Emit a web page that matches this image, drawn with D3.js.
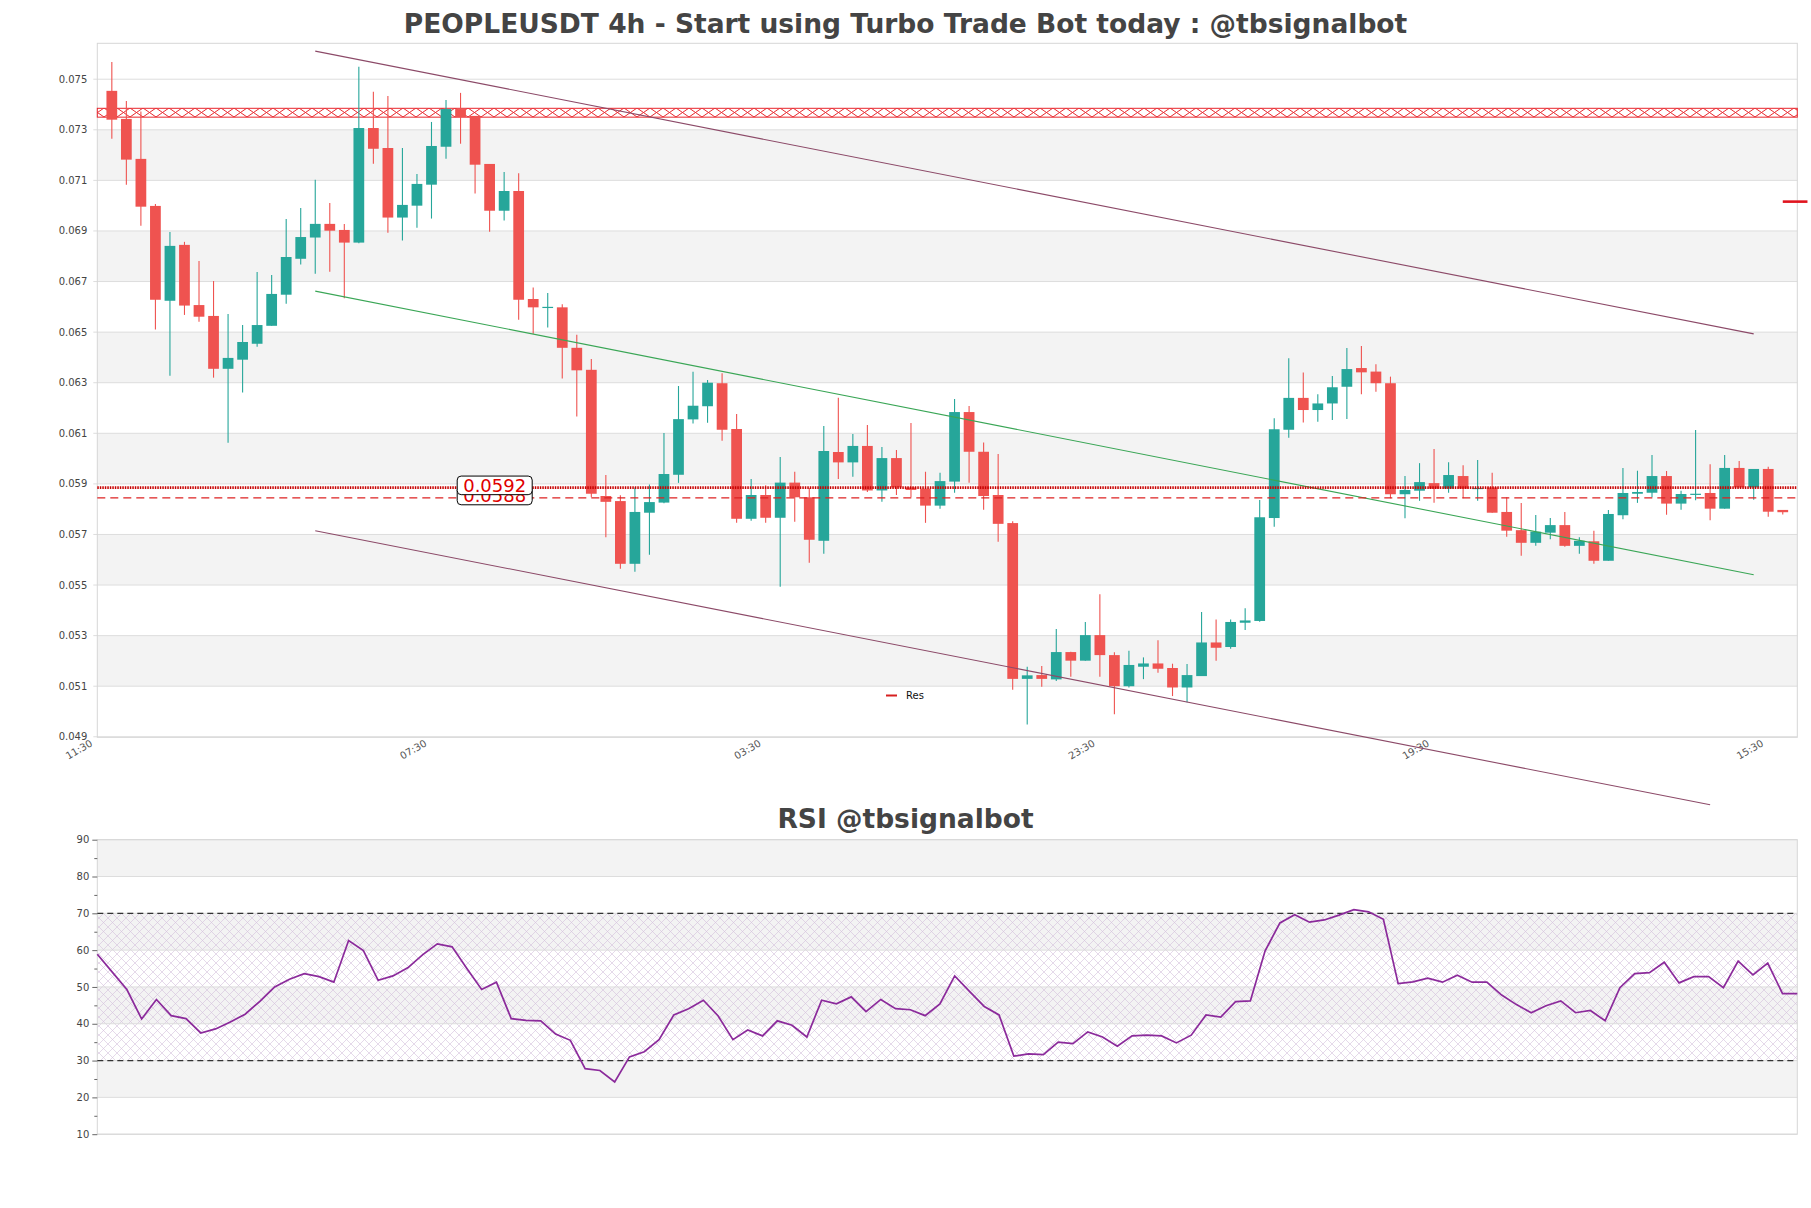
<!DOCTYPE html>
<html>
<head>
<meta charset="utf-8">
<script src="https://cdn.jsdelivr.net/npm/d3@7"></script>
<style>
  body { margin: 0; background: #fff; }
  svg { display: block; font-family: "DejaVu Sans", sans-serif; }
</style>
</head>
<body>
<div id="chart"></div>
<script>
// candle data, one entry per 4h bar
const opens = [0.07454,0.07343,0.07185,0.06999,0.06624,0.06845,0.06607,0.06564,0.06355,0.06391,
  0.06454,0.06525,0.06648,0.06790,0.06874,0.06928,0.06904,0.06854,0.07307,0.07228,
  0.06953,0.07000,0.07083,0.07233,0.07382,0.07355,0.07165,0.06980,0.07058,0.06631,
  0.06596,0.06598,0.06438,0.06351,0.05852,0.05832,0.05584,0.05786,0.05826,0.05936,
  0.06155,0.06207,0.06298,0.06117,0.05762,0.05856,0.05766,0.05905,0.05847,0.05675,
  0.06026,0.05985,0.06050,0.05874,0.06002,0.05886,0.05881,0.05814,0.05909,0.06184,
  0.06027,0.05856,0.05745,0.05129,0.05144,0.05127,0.05235,0.05201,0.05302,0.05223,
  0.05100,0.05177,0.05190,0.05172,0.05095,0.05140,0.05273,0.05255,0.05351,0.05358,
  0.05765,0.06114,0.06240,0.06192,0.06218,0.06284,0.06358,0.06344,0.06298,0.05859,
  0.05873,0.05903,0.05881,0.05931,0.05881,0.05886,0.05789,0.05717,0.05667,0.05707,
  0.05737,0.05655,0.05673,0.05596,0.05776,0.05861,0.05865,0.05931,0.05822,0.05857,
  0.05864,0.05802,0.05963,0.05886,0.05959,0.05797];
const highs = [0.07568,0.07414,0.07372,0.07007,0.06896,0.06857,0.06781,0.06702,0.06572,0.06528,
  0.06738,0.06726,0.06947,0.06991,0.07102,0.07011,0.06928,0.07549,0.07450,0.07434,
  0.07228,0.07125,0.07331,0.07418,0.07446,0.07355,0.07165,0.07133,0.07128,0.06676,
  0.06655,0.06610,0.06490,0.06394,0.05935,0.05855,0.05886,0.05898,0.06101,0.06287,
  0.06343,0.06311,0.06337,0.06176,0.05919,0.05895,0.06006,0.05948,0.05884,0.06129,
  0.06241,0.06097,0.06133,0.06046,0.06034,0.06141,0.05948,0.05944,0.06236,0.06208,
  0.06064,0.06018,0.05752,0.05177,0.05180,0.05326,0.05236,0.05354,0.05464,0.05234,
  0.05240,0.05214,0.05282,0.05189,0.05188,0.05393,0.05364,0.05364,0.05408,0.05836,
  0.06159,0.06397,0.06340,0.06254,0.06327,0.06437,0.06445,0.06373,0.06324,0.05931,
  0.05982,0.06038,0.05986,0.05974,0.05994,0.05944,0.05847,0.05824,0.05777,0.05765,
  0.05789,0.05689,0.05715,0.05797,0.05963,0.05952,0.06014,0.05951,0.05873,0.06113,
  0.05978,0.06014,0.05990,0.05959,0.05968,0.05797];
const lows = [0.07265,0.07083,0.06921,0.06510,0.06328,0.06568,0.06541,0.06320,0.06063,0.06261,
  0.06442,0.06525,0.06612,0.06767,0.06731,0.06739,0.06634,0.06851,0.07166,0.06893,
  0.06862,0.06913,0.06949,0.07186,0.07245,0.07048,0.06897,0.06941,0.06549,0.06494,
  0.06518,0.06317,0.06166,0.05847,0.05689,0.05564,0.05553,0.05620,0.05823,0.05904,
  0.06139,0.06142,0.06071,0.05746,0.05754,0.05746,0.05493,0.05750,0.05588,0.05624,
  0.05919,0.05928,0.05868,0.05829,0.05856,0.05847,0.05746,0.05802,0.05865,0.05904,
  0.05798,0.05671,0.05086,0.04949,0.05098,0.05121,0.05137,0.05201,0.05137,0.04989,
  0.05095,0.05128,0.05153,0.05061,0.05037,0.05140,0.05201,0.05248,0.05322,0.05355,
  0.05730,0.06082,0.06143,0.06146,0.06153,0.06157,0.06254,0.06264,0.05843,0.05764,
  0.05833,0.05825,0.05865,0.05843,0.05833,0.05786,0.05691,0.05616,0.05655,0.05681,
  0.05651,0.05624,0.05584,0.05596,0.05760,0.05825,0.05847,0.05778,0.05798,0.05835,
  0.05756,0.05802,0.05886,0.05837,0.05770,0.05779];
const closes = [0.07340,0.07182,0.06996,0.06628,0.06841,0.06605,0.06561,0.06355,0.06398,0.06461,
  0.06528,0.06651,0.06797,0.06876,0.06928,0.06901,0.06854,0.07307,0.07225,0.06953,
  0.07003,0.07086,0.07236,0.07382,0.07350,0.07162,0.06980,0.07058,0.06628,0.06598,
  0.06600,0.06438,0.06349,0.05861,0.05829,0.05584,0.05789,0.05828,0.05939,0.06156,
  0.06209,0.06300,0.06114,0.05762,0.05856,0.05766,0.05905,0.05847,0.05679,0.06030,
  0.05985,0.06050,0.05874,0.06002,0.05886,0.05876,0.05814,0.05911,0.06184,0.06027,
  0.05852,0.05742,0.05129,0.05143,0.05129,0.05235,0.05201,0.05302,0.05223,0.05100,
  0.05184,0.05190,0.05169,0.05095,0.05144,0.05273,0.05252,0.05354,0.05360,0.05768,
  0.06116,0.06240,0.06192,0.06218,0.06282,0.06354,0.06341,0.06298,0.05859,0.05876,
  0.05907,0.05881,0.05935,0.05881,0.05884,0.05786,0.05715,0.05667,0.05711,0.05737,
  0.05655,0.05675,0.05596,0.05781,0.05864,0.05868,0.05931,0.05822,0.05860,0.05861,
  0.05802,0.05963,0.05886,0.05959,0.05790,0.05788];

const rsiValues = [58.9,54.1,49.3,41.3,46.6,42.2,41.4,37.5,38.6,40.5,
  42.6,46.1,50.0,52.1,53.6,52.8,51.3,62.6,59.9,51.8,
  53.0,55.2,58.7,61.7,60.9,55.0,49.3,51.3,41.4,40.9,
  40.8,37.2,35.5,27.8,27.3,24.2,31.0,32.4,35.7,42.4,
  44.1,46.4,42.1,35.7,38.3,36.7,40.8,39.6,36.4,46.4,
  45.4,47.3,43.3,46.6,44.1,43.8,42.2,45.4,53.0,48.8,
  44.7,42.4,31.2,31.8,31.6,35.0,34.6,37.8,36.4,33.9,
  36.7,36.9,36.7,34.8,36.9,42.4,41.8,46.0,46.2,59.8,
  67.4,69.6,67.6,68.2,69.5,71.0,70.4,68.4,50.9,51.4,
  52.4,51.3,53.2,51.3,51.3,47.8,45.2,43.0,44.9,46.2,
  43.0,43.6,40.8,49.8,53.6,53.9,56.7,51.1,52.8,52.8,
  49.8,57.0,53.3,56.5,48.2,48.2];

const xTickIdx = [-1, 22, 45, 68, 91, 114];
const xTickLabels = ['11:30', '07:30', '03:30', '23:30', '19:30', '15:30'];
const priceTicks = [0.049,0.051,0.053,0.055,0.057,0.059,0.061,0.063,0.065,0.067,0.069,0.071,0.073,0.075];
const rsiTicks = [10,20,30,40,50,60,70,80,90];

// levels drawn on the price panel
const resZone = [0.0735, 0.07385];
const channelUpper = [[14, 0.07611], [113, 0.06493]];
const channelLower = [[14, 0.05715], [110, 0.04631]];
const channelMid = [[14, 0.06662], [113, 0.05541]];
const levelValues = [0.05885, 0.05845];
const levelLabels = ['0.0592', '0.0588'];
const labelIdx = 26.35;
const resMark = [[115, 0.07016], [116.7, 0.07016]];

const width = 1811, height = 1208;
const plotLeft = 97.3, plotRight = 1797.3;
const main = {top: 43.3, bottom: 737.3};
const rsiBox = {top: 839.7, bottom: 1134.2};

const upColor = '#26a69a', downColor = '#ef5350';

const svg = d3.select('#chart').append('svg')
  .attr('width', width)
  .attr('height', height);

const defs = svg.append('defs');

// red "x" hatch for the resistance zone
const hatchRed = defs.append('pattern')
  .attr('id', 'hatch-red')
  .attr('patternUnits', 'userSpaceOnUse')
  .attr('width', 13).attr('height', 9);
hatchRed.append('path')
  .attr('d', 'M0,0 L13,9 M0,9 L13,0')
  .attr('stroke', '#e8262c').attr('stroke-width', 1).attr('fill', 'none');

// light purple cross hatch for the RSI 30-70 zone
const hatchRsi = defs.append('pattern')
  .attr('id', 'hatch-rsi')
  .attr('patternUnits', 'userSpaceOnUse')
  .attr('width', 9).attr('height', 9);
hatchRsi.append('path')
  .attr('d', 'M0,0 L9,9 M0,9 L9,0')
  .attr('stroke', '#d3c0dc').attr('stroke-width', 0.6).attr('fill', 'none');

// ---------- price panel ----------
const x = d3.scaleLinear().domain([-1, 116]).range([plotLeft, plotRight]);
const y = d3.scaleLinear().domain([0.04898, 0.07642]).range([main.bottom, main.top]);

const mainG = svg.append('g');

// alternating bands
const bands = priceTicks.slice(0, -1).map((t, i) => ({lo: t, hi: priceTicks[i + 1], gray: i % 2 === 1}));
mainG.append('g').selectAll('rect')
  .data(bands.filter(d => d.gray))
  .enter().append('rect')
  .attr('x', plotLeft)
  .attr('width', plotRight - plotLeft)
  .attr('y', d => y(d.hi))
  .attr('height', d => y(d.lo) - y(d.hi))
  .attr('fill', '#f3f3f3');

mainG.append('g').selectAll('line')
  .data(priceTicks)
  .enter().append('line')
  .attr('x1', plotLeft - 4)
  .attr('x2', plotRight)
  .attr('y1', d => y(d))
  .attr('y2', d => y(d))
  .attr('stroke', '#dddddd')
  .attr('stroke-width', 1);

mainG.append('rect')
  .attr('x', plotLeft).attr('y', main.top)
  .attr('width', plotRight - plotLeft).attr('height', main.bottom - main.top)
  .attr('fill', 'none').attr('stroke', '#d6d6d6');

// y labels
mainG.append('g').selectAll('text')
  .data(priceTicks)
  .enter().append('text')
  .attr('x', plotLeft - 10)
  .attr('y', d => y(d))
  .attr('dy', '0.35em')
  .attr('text-anchor', 'end')
  .attr('font-size', 10)
  .attr('fill', '#444')
  .text(d => d3.format('.3f')(d));

// x labels
mainG.append('g').selectAll('text')
  .data(xTickIdx)
  .enter().append('text')
  .attr('transform', d => `translate(${x(d) - 4},${main.bottom + 8}) rotate(-30)`)
  .attr('text-anchor', 'end')
  .attr('font-size', 10)
  .attr('fill', '#555')
  .text((d, i) => xTickLabels[i]);

// resistance zone
mainG.append('rect')
  .attr('x', plotLeft)
  .attr('width', plotRight - plotLeft)
  .attr('y', y(resZone[1]))
  .attr('height', y(resZone[0]) - y(resZone[1]))
  .attr('fill', 'url(#hatch-red)')
  .attr('stroke', '#e8262c')
  .attr('stroke-width', 1);

// candles
const candles = opens.map((o, i) => ({i: i, o: o, h: highs[i], l: lows[i], c: closes[i]}));
const bodyW = (x(1) - x(0)) * 0.74;

const candleG = mainG.append('g');
candleG.selectAll('.wick')
  .data(candles)
  .enter().append('line')
  .attr('class', 'wick')
  .attr('x1', d => x(d.i))
  .attr('x2', d => x(d.i))
  .attr('y1', d => y(d.h))
  .attr('y2', d => y(d.l))
  .attr('stroke', d => d.c >= d.o ? upColor : downColor)
  .attr('stroke-width', 1.1);

candleG.selectAll('.body')
  .data(candles)
  .enter().append('rect')
  .attr('class', 'body')
  .attr('x', d => x(d.i) - bodyW / 2)
  .attr('width', bodyW)
  .attr('y', d => y(Math.max(d.o, d.c)))
  .attr('height', d => Math.max(1.2, Math.abs(y(d.o) - y(d.c))))
  .attr('fill', d => d.c >= d.o ? upColor : downColor);

// channel lines
const line = d3.line().x(d => x(d[0])).y(d => y(d[1]));
mainG.append('path').attr('d', line(channelUpper))
  .attr('stroke', '#8c4a68').attr('stroke-width', 1.1).attr('fill', 'none');
mainG.append('path').attr('d', line(channelLower))
  .attr('stroke', '#8c4a68').attr('stroke-width', 1.1).attr('fill', 'none');
mainG.append('path').attr('d', line(channelMid))
  .attr('stroke', '#3aa656').attr('stroke-width', 1.1).attr('fill', 'none');

// horizontal levels
mainG.append('line')
  .attr('x1', plotLeft).attr('x2', plotRight)
  .attr('y1', y(levelValues[0])).attr('y2', y(levelValues[0]))
  .attr('stroke', '#c80000').attr('stroke-width', 2.6)
  .attr('stroke-dasharray', '1.5,1');
mainG.append('line')
  .attr('x1', plotLeft).attr('x2', plotRight)
  .attr('y1', y(levelValues[1])).attr('y2', y(levelValues[1]))
  .attr('stroke', '#dd2222').attr('stroke-width', 1.3)
  .attr('stroke-dasharray', '8,5');

// price labels (second one drawn first, the first sits on top of it as in the source)
[1, 0].forEach(k => {
  const cy = y(levelValues[k]) - 2.3;
  const g = mainG.append('g');
  g.append('rect')
    .attr('x', x(labelIdx) - 37.5).attr('y', cy - 9.3)
    .attr('width', 75).attr('height', 18.6)
    .attr('rx', 4).attr('ry', 4)
    .attr('fill', '#fff').attr('stroke', '#000').attr('stroke-width', 1);
  g.append('text')
    .attr('x', x(labelIdx)).attr('y', cy)
    .attr('dy', '0.36em')
    .attr('text-anchor', 'middle')
    .attr('font-size', 18)
    .attr('fill', '#e00000')
    .text(levelLabels[k]);
});

// small red mark at the right edge
mainG.append('path').attr('d', line(resMark))
  .attr('stroke', '#e0141e').attr('stroke-width', 2.6).attr('fill', 'none');

// legend
mainG.append('line')
  .attr('x1', 886).attr('x2', 897).attr('y1', 695.5).attr('y2', 695.5)
  .attr('stroke', '#d62020').attr('stroke-width', 2);
mainG.append('text')
  .attr('x', 906).attr('y', 695.5).attr('dy', '0.35em')
  .attr('font-size', 10).attr('fill', '#111')
  .text('Res');

// title
svg.append('text')
  .attr('x', width / 2).attr('y', 32.7)
  .attr('text-anchor', 'middle')
  .attr('font-size', 26.5).attr('font-weight', 'bold')
  .attr('fill', '#444')
  .text('PEOPLEUSDT 4h - Start using Turbo Trade Bot today : @tbsignalbot');

// ---------- RSI panel ----------
const xr = d3.scaleLinear().domain([0, rsiValues.length - 1]).range([plotLeft, plotRight]);
const yr = d3.scaleLinear().domain([10, 90]).range([rsiBox.bottom, rsiBox.top]);

const rsiG = svg.append('g');

const rsiBands = rsiTicks.slice(0, -1).map((t, i) => ({lo: t, hi: rsiTicks[i + 1], gray: i % 2 === 1}));
rsiG.append('g').selectAll('rect')
  .data(rsiBands.filter(d => d.gray))
  .enter().append('rect')
  .attr('x', plotLeft)
  .attr('width', plotRight - plotLeft)
  .attr('y', d => yr(d.hi))
  .attr('height', d => yr(d.lo) - yr(d.hi))
  .attr('fill', '#f3f3f3');

rsiG.append('rect')
  .attr('x', plotLeft).attr('width', plotRight - plotLeft)
  .attr('y', yr(70)).attr('height', yr(30) - yr(70))
  .attr('fill', 'url(#hatch-rsi)');

rsiG.append('g').selectAll('line')
  .data(rsiTicks)
  .enter().append('line')
  .attr('x1', plotLeft).attr('x2', plotRight)
  .attr('y1', d => yr(d)).attr('y2', d => yr(d))
  .attr('stroke', '#dddddd');

rsiG.append('rect')
  .attr('x', plotLeft).attr('y', rsiBox.top)
  .attr('width', plotRight - plotLeft).attr('height', rsiBox.bottom - rsiBox.top)
  .attr('fill', 'none').attr('stroke', '#d6d6d6');

const yAxisR = d3.axisLeft(yr)
  .tickValues(d3.range(10, 91, 5))
  .tickSize(0)
  .tickFormat(d => d % 10 === 0 ? d : '');
rsiG.append('g')
  .attr('transform', `translate(${plotLeft},0)`)
  .call(yAxisR)
  .call(g => g.select('.domain').remove())
  .call(g => g.selectAll('line').attr('x2', d => d % 10 === 0 ? -5 : -3).attr('stroke', '#666'))
  .call(g => g.selectAll('text').attr('x', -8).attr('font-size', 10).attr('fill', '#444')
    .attr('font-family', '"DejaVu Sans", sans-serif'));

[70, 30].forEach(v => {
  rsiG.append('line')
    .attr('x1', plotLeft).attr('x2', plotRight)
    .attr('y1', yr(v)).attr('y2', yr(v))
    .attr('stroke', '#333').attr('stroke-width', 1.2)
    .attr('stroke-dasharray', '6,4');
});

rsiG.append('path')
  .datum(rsiValues)
  .attr('d', d3.line().x((d, i) => xr(i)).y(d => yr(d)))
  .attr('fill', 'none')
  .attr('stroke', '#8b2a9b')
  .attr('stroke-width', 1.7);

svg.append('text')
  .attr('x', width / 2).attr('y', 828.3)
  .attr('text-anchor', 'middle')
  .attr('font-size', 26.5).attr('font-weight', 'bold')
  .attr('fill', '#444')
  .text('RSI @tbsignalbot');
</script>
</body>
</html>
